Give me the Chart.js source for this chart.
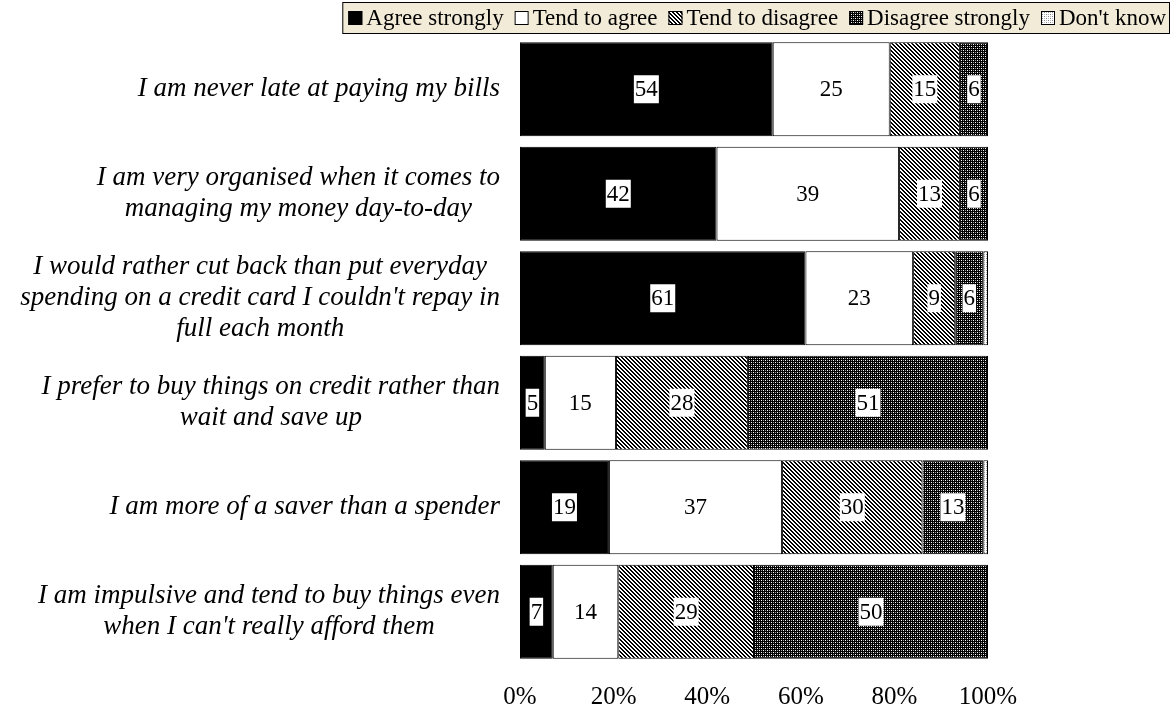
<!DOCTYPE html>
<html>
<head>
<meta charset="utf-8">
<script src="https://cdn.jsdelivr.net/npm/chart.js@4.4.1/dist/chart.umd.min.js"></script>
<style>
  html, body { margin: 0; padding: 0; background: #fff; }
  #wrap { width: 1176px; height: 720px; }
</style>
</head>
<body>
<div id="wrap"><canvas id="chart"></canvas></div>
<script>
const statements = [
    ['I am never late at paying my bills'],
    ['I am very organised when it comes to', 'managing my money day-to-day'],
    ['I would rather cut back than put everyday', "spending on a credit card I couldn't repay in", 'full each month'],
    ['I prefer to buy things on credit rather than', 'wait and save up'],
    ['I am more of a saver than a spender'],
    ['I am impulsive and tend to buy things even', "when I can't really afford them"]
];
const seriesNames = ['Agree strongly', 'Tend to agree', 'Tend to disagree', 'Disagree strongly', "Don't know"];
const agreeStrongly = [54, 42, 61, 5.3, 19, 7];
const tendToAgree = [25, 39, 23, 15.2, 37, 14];
const tendToDisagree = [15, 13, 9, 28.2, 30, 29];
const disagreeStrongly = [6, 6, 6, 51.3, 13, 50];
const dontKnow = [0, 0, 1, 0, 1, 0];
const xTicks = [0, 20, 40, 60, 80, 100];

const SERIF = '"Liberation Serif", "Times New Roman", serif';

function makePattern(kind) {
    const c = document.createElement('canvas');
    c.width = 4;
    c.height = 4;
    const g = c.getContext('2d');
    if (kind === 'diag') {
        g.fillStyle = '#fff';
        g.fillRect(0, 0, 4, 4);
        g.fillStyle = '#000';
        for (let y = 0; y < 4; y++) {
            for (let x = 0; x < 4; x++) {
                const k = ((x - y) % 4 + 4) % 4;
                if (k === 0 || k === 1) g.fillRect(x, y, 1, 1);
            }
        }
    } else if (kind === 'dark') {
        g.fillStyle = '#000';
        g.fillRect(0, 0, 4, 4);
        g.fillStyle = '#fff';
        g.fillRect(1, 0, 1, 1);
        g.fillRect(3, 2, 1, 1);
        g.fillStyle = '#999';
        g.fillRect(1, 2, 1, 1);
        g.fillRect(3, 0, 1, 1);
    } else {
        g.fillStyle = '#fff';
        g.fillRect(0, 0, 4, 4);
        g.fillStyle = '#888';
        g.fillRect(0, 0, 1, 1);
        g.fillRect(2, 2, 1, 1);
        g.fillStyle = '#bbb';
        g.fillRect(0, 2, 1, 1);
        g.fillRect(2, 0, 1, 1);
    }
    return g.createPattern(c, 'repeat');
}

const fills = ['#000', '#fff', makePattern('diag'), makePattern('dark'), makePattern('light')];
const values = [agreeStrongly, tendToAgree, tendToDisagree, disagreeStrongly, dontKnow];

const customDraw = {
    id: 'customDraw',
    afterDatasetsDraw(chart) {
        const ctx = chart.ctx;
        ctx.save();
        ctx.font = '23px ' + SERIF;
        ctx.textAlign = 'center';
        ctx.textBaseline = 'middle';
        chart.data.datasets.forEach((ds, i) => {
            if (i === 4) return;
            const meta = chart.getDatasetMeta(i);
            meta.data.forEach((bar, j) => {
                const v = Math.round(ds.data[j]);
                if (!v) return;
                const cx = (bar.x + bar.base) / 2;
                const w = ctx.measureText(String(v)).width;
                ctx.fillStyle = '#fff';
                ctx.fillRect(cx - w / 2 - 1, bar.y - 14, w + 2, 28);
                ctx.fillStyle = '#000';
                ctx.fillText(String(v), cx, bar.y + 1);
            });
        });
        ctx.restore();
    },
    afterDraw(chart) {
        const ctx = chart.ctx;
        const yScale = chart.scales.y;
        ctx.save();
        ctx.fillStyle = '#000';
        ctx.textBaseline = 'middle';
        ctx.textAlign = 'center';
        ctx.font = 'italic 27px ' + SERIF;
        const lineH = 31;
        const rightEdge = 500;
        statements.forEach((lines, i) => {
            const cy = yScale.getPixelForValue(i);
            const maxW = Math.max(...lines.map(l => ctx.measureText(l).width));
            const cx = rightEdge - maxW / 2;
            const top = cy - (lines.length - 1) * lineH / 2;
            lines.forEach((l, k) => ctx.fillText(l, cx, top + k * lineH));
        });

        // legend
        ctx.font = '23px ' + SERIF;
        ctx.textAlign = 'left';
        const box = 14, gap = 4, spacing = 11;
        const widths = seriesNames.map(n => ctx.measureText(n).width);
        const total = widths.reduce((s, w) => s + box + gap + w, 0) + spacing * (seriesNames.length - 1);
        const right = 1170;
        const left = right - total - 10;
        ctx.fillStyle = '#f2ebd8';
        ctx.fillRect(left, 2, right - left, 32);
        ctx.strokeStyle = '#000';
        ctx.lineWidth = 1;
        ctx.strokeRect(left + 0.5, 2.5, right - left - 1, 31);
        let x = left + 6;
        seriesNames.forEach((n, i) => {
            ctx.fillStyle = fills[i];
            ctx.fillRect(x, 11, box, box);
            ctx.strokeStyle = '#000';
            ctx.strokeRect(x + 0.5, 11.5, box - 1, box - 1);
            ctx.fillStyle = '#000';
            ctx.fillText(n, x + box + gap, 19);
            x += box + gap + widths[i] + spacing;
        });
        ctx.restore();
    }
};

new Chart(document.getElementById('chart'), {
    type: 'bar',
    data: {
        labels: statements.map(l => l.join(' ')),
        datasets: seriesNames.map((name, i) => ({
            label: name,
            data: values[i],
            backgroundColor: fills[i],
            borderColor: '#000',
            borderWidth: 1,
            borderSkipped: false,
            barPercentage: 0.9,
            categoryPercentage: 1
        }))
    },
    options: {
        indexAxis: 'y',
        responsive: true,
        maintainAspectRatio: false,
        animation: false,
        layout: { padding: { left: 512, right: 188, top: 37, bottom: 16 } },
        plugins: {
            legend: { display: false },
            tooltip: { enabled: false }
        },
        scales: {
            x: {
                stacked: true,
                min: 0,
                max: 100,
                grid: { display: false },
                border: { display: false },
                afterBuildTicks: (scale) => { scale.ticks = xTicks.map(v => ({ value: v })); },
                afterFit: (scale) => { scale.height = 40; },
                ticks: {
                    color: '#000',
                    font: { family: SERIF, size: 25 },
                    padding: 10,
                    maxRotation: 0,
                    callback: (v) => v + '%'
                }
            },
            y: {
                stacked: true,
                grid: { display: false },
                border: { display: false },
                ticks: { display: false }
            }
        }
    },
    plugins: [customDraw]
});
</script>
</body>
</html>
